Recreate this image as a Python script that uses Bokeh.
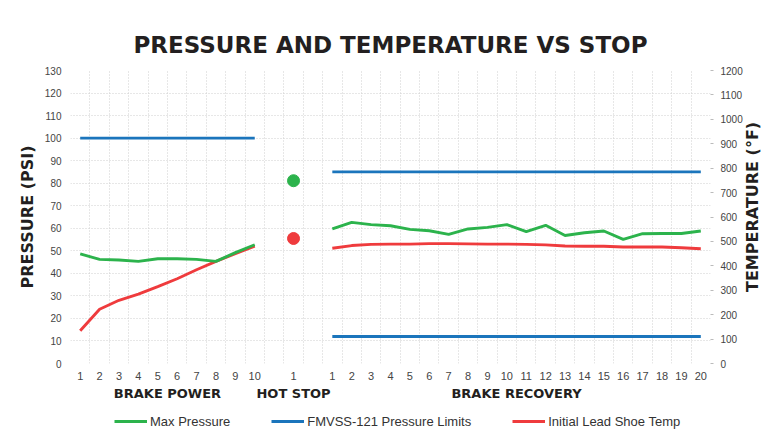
import math
import numpy as np
from bokeh.plotting import figure
from bokeh.layouts import column
from bokeh.models import Range1d, LinearAxis, FixedTicker, Legend, LegendItem
from bokeh.embed import file_html
from bokeh.resources import INLINE

# ---------------- data ----------------
power_stops = [str(i) for i in range(1, 11)]
hot_stops = ["1"]
recovery_stops = [str(i) for i in range(1, 21)]
group_names = ["BRAKE POWER", "HOT STOP", "BRAKE RECOVERY"]

pressure_power = [48.6, 46.2, 45.9, 45.3, 46.5, 46.5, 46.2, 45.3, 49.2, 52.7]
pressure_hot = [81.1]
pressure_recovery = [59.7, 62.6, 61.6, 61.1, 59.5, 58.9, 57.3, 59.7, 60.4, 61.6,
                     58.5, 61.3, 56.8, 58.0, 58.8, 55.1, 57.6, 57.7, 57.7, 58.8]

temp_power = [134, 222, 259, 284, 315, 347, 384, 418, 450, 481]
temp_hot = [512]
temp_recovery = [472, 483, 488, 489, 489, 491, 491, 490, 489, 489,
                 488, 486, 481, 480, 480, 477, 477, 477, 474, 470]

limit_power_upper = 100
limit_recovery_upper = 85
limit_recovery_lower = 12

pressure_ticks = list(range(0, 131, 10))
temp_ticks = list(range(0, 1201, 100))

legend_labels = ["Max Pressure", "FMVSS-121 Pressure Limits", "Initial Lead Shoe Temp"]
temp_title = "TEMPERATURE (°F)"

# ---------------- positions (slots, with one empty slot between groups) ----------------
power_x = list(range(len(power_stops)))
hot_x = [len(power_stops) + 1 + i for i in range(len(hot_stops))]
rec_x = [hot_x[-1] + 2 + i for i in range(len(recovery_stops))]
n_slots = rec_x[-1] + 1

GREEN = "#2cb34c"
BLUE = "#1b75bc"
RED = "#ef3b3d"
DARK = "#231f20"
TICK = "#444444"
W = 776
FRAME_H = 293

p = figure(width=W, height=405, output_backend="svg", toolbar_location=None,
           x_range=Range1d(-0.5, n_slots - 0.5), y_range=Range1d(0, 130),
           min_border_left=70, min_border_right=66, min_border_top=70, min_border_bottom=42)
p.extra_y_ranges = {"temp": Range1d(0, 1200)}
p.outline_line_color = None
p.background_fill_color = "white"
p.border_fill_color = "white"

# title
p.title.text = "PRESSURE AND TEMPERATURE VS STOP"
p.title.align = "center"
p.title.text_font = "DejaVu Sans"
p.title.text_font_style = "bold"
p.title.text_font_size = "23px"
p.title.text_color = DARK
p.title.standoff = 26

# grids
p.xgrid.ticker = FixedTicker(ticks=[-0.5 + i for i in range(n_slots + 1)])
p.ygrid.ticker = FixedTicker(ticks=pressure_ticks)
for g in (p.xgrid[0], p.ygrid[0]):
    g.grid_line_color = "#cfcfcf"
    g.grid_line_dash = "1 2"
    g.grid_line_width = 1


def bare(ax):
    ax.major_tick_in = 0
    ax.major_tick_out = 0
    ax.minor_tick_out = 0
    ax.minor_tick_in = 0
    ax.major_tick_line_color = None
    ax.minor_tick_line_color = None
    ax.axis_line_color = None


# x axis (stop numbers)
xa = p.xaxis[0]
all_x = power_x + hot_x + rec_x
all_labels = power_stops + hot_stops + recovery_stops
xa.ticker = FixedTicker(ticks=all_x)
xa.major_label_overrides = {x: l for x, l in zip(all_x, all_labels)}
bare(xa)
xa.major_label_standoff = 8
xa.major_label_text_font = "Liberation Sans"
xa.major_label_text_font_size = "11px"
xa.major_label_text_color = TICK

# group axis
centers = [sum(power_x) / len(power_x), sum(hot_x) / len(hot_x), sum(rec_x) / len(rec_x)]
ga = LinearAxis(ticker=FixedTicker(ticks=centers),
                major_label_overrides={c: n for c, n in zip(centers, group_names)})
bare(ga)
ga.major_label_standoff = 3
ga.major_label_text_font = "DejaVu Sans"
ga.major_label_text_font_style = "bold"
ga.major_label_text_font_size = "13px"
ga.major_label_text_color = DARK
p.add_layout(ga, "below")

# left axis
ya = p.yaxis[0]
ya.ticker = FixedTicker(ticks=pressure_ticks)
bare(ya)
ya.major_label_standoff = 9
ya.major_label_text_font = "Liberation Sans"
ya.major_label_text_font_size = "10px"
ya.major_label_text_color = TICK
ya.axis_label = "PRESSURE (PSI)"
ya.axis_label_text_font = "DejaVu Sans"
ya.axis_label_text_font_style = "bold"
ya.axis_label_text_font_size = "16px"
ya.axis_label_text_color = DARK
ya.axis_label_standoff = 5

# right axis (temperature ticks)
ra = LinearAxis(y_range_name="temp", ticker=FixedTicker(ticks=temp_ticks))
ra.major_tick_in = 0
ra.major_tick_out = 3
ra.minor_tick_out = 0
ra.minor_tick_in = 0
ra.major_tick_line_color = "#bbbbbb"
ra.minor_tick_line_color = None
ra.axis_line_color = None
ra.major_label_standoff = 7
ra.major_label_text_font = "Liberation Sans"
ra.major_label_text_font_size = "10px"
ra.major_label_text_color = TICK
p.add_layout(ra, "right")

# right axis title, drawn as a rotated label reading bottom-to-top; its start is placed
# so that the text sits beside the middle of the frame, as in the original
title_len_px = 150
t_lo, t_hi = temp_ticks[0], temp_ticks[-1]
t_start = (t_lo + t_hi) / 2 - (title_len_px / 2) * (t_hi - t_lo) / FRAME_H
ta = LinearAxis(y_range_name="temp", ticker=FixedTicker(ticks=[t_start]),
                major_label_overrides={t_start: temp_title})
bare(ta)
ta.major_label_orientation = math.pi / 2
ta.major_label_standoff = 7
ta.major_label_text_font = "DejaVu Sans"
ta.major_label_text_font_style = "bold"
ta.major_label_text_font_size = "16px"
ta.major_label_text_color = DARK
p.add_layout(ta, "right")

LW = 2.9
# pressure limits
p.line([power_x[0], power_x[-1]], [limit_power_upper, limit_power_upper], line_color=BLUE, line_width=LW)
p.line([rec_x[0], rec_x[-1]], [limit_recovery_upper, limit_recovery_upper], line_color=BLUE, line_width=LW)
p.line([rec_x[0], rec_x[-1]], [limit_recovery_lower, limit_recovery_lower], line_color=BLUE, line_width=LW)

# temperature
p.line(power_x, temp_power, y_range_name="temp", line_color=RED, line_width=LW)
p.line(rec_x, temp_recovery, y_range_name="temp", line_color=RED, line_width=LW)
p.scatter(hot_x, temp_hot, y_range_name="temp", size=12, fill_color=RED, line_color=RED)

# max pressure
p.line(power_x, pressure_power, line_color=GREEN, line_width=LW)
p.line(rec_x, pressure_recovery, line_color=GREEN, line_width=LW)
p.scatter(hot_x, pressure_hot, size=12, fill_color=GREEN, line_color=GREEN)

# ---------------- legend strip (separate small figure below; frame aligns with main frame) ----------------
leg = figure(width=W, height=38, output_backend="svg", toolbar_location=None,
             x_range=Range1d(0, 1), y_range=Range1d(0, 1),
             x_axis_location=None, y_axis_location=None,
             min_border_left=0, min_border_right=0, min_border_top=0, min_border_bottom=0)
leg.outline_line_color = None
leg.xgrid.visible = False
leg.ygrid.visible = False
leg.background_fill_color = "white"
leg.border_fill_color = "white"
nan = np.array([np.nan])
leg_renderers = [leg.line(nan, nan, line_color=c, line_width=LW) for c in (GREEN, BLUE, RED)]
legend = Legend(items=[LegendItem(label=l, renderers=[r]) for l, r in zip(legend_labels, leg_renderers)],
                orientation="horizontal", location=(44, 14))
legend.glyph_width = 33
legend.glyph_height = 16
legend.label_standoff = 3
legend.spacing = 41
legend.padding = 0
legend.margin = 0
legend.border_line_color = None
legend.background_fill_alpha = 0
legend.label_text_font = "Liberation Sans"
legend.label_text_font_size = "13px"
legend.label_text_color = "#333333"
leg.add_layout(legend, "center")

open("out.html", "w").write(file_html(column(p, leg, spacing=0), INLINE))
